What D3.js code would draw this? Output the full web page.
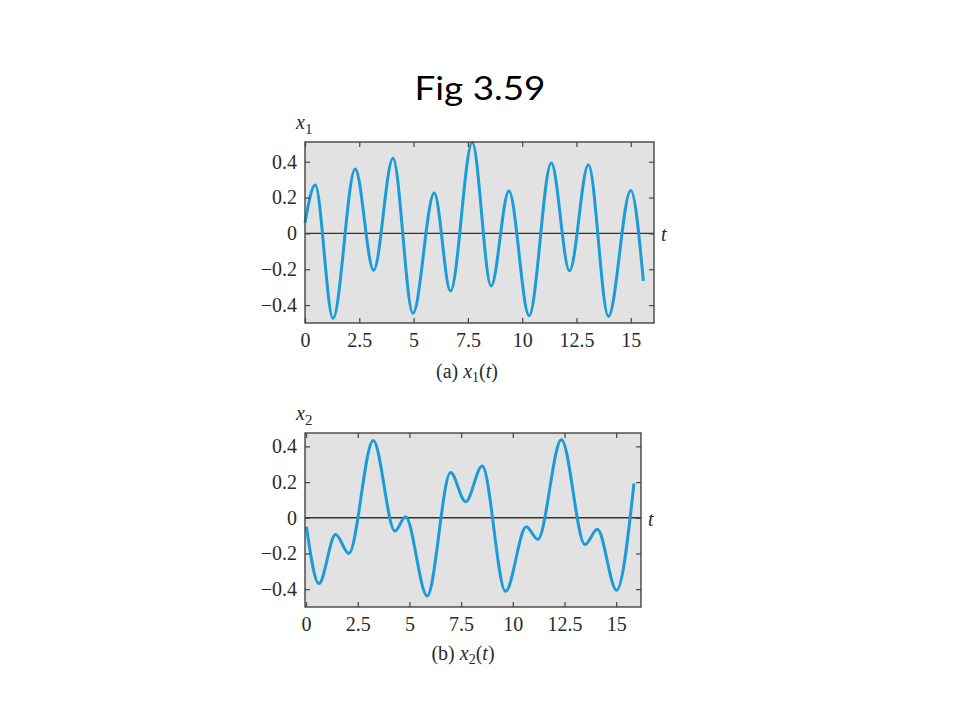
<!DOCTYPE html>
<html>
<head>
<meta charset="utf-8">
<script src="https://cdn.jsdelivr.net/npm/d3@7"></script>
<style>
  html, body { margin: 0; padding: 0; background: #fff; }
  svg { display: block; }
</style>
</head>
<body>
<svg id="chart" width="960" height="720"></svg>
<script>
// ---- Data ----
const title = "Fig 3.59";

const xTicks = [0, 2.5, 5, 7.5, 10, 12.5, 15];
const xTickLabels = ["0", "2.5", "5", "7.5", "10", "12.5", "15"];
const yTicks = [-0.4, -0.2, 0, 0.2, 0.4];
const yTickLabels = ["\u22120.4", "\u22120.2", "0", "0.2", "0.4"];

// x1(t): local extrema and end points
const x1T = [0, 0.47, 1.29, 2.31, 3.16, 4.05, 4.97, 5.95, 6.70, 7.70, 8.57, 9.39, 10.32, 11.34, 12.18, 13.05, 13.97, 15.0, 15.58];
const x1V = [0.06, 0.27, -0.474, 0.36, -0.206, 0.42, -0.446, 0.226, -0.322, 0.507, -0.293, 0.237, -0.459, 0.393, -0.209, 0.383, -0.463, 0.24, -0.265];

// x2(t): local extrema and end points
const x2T = [0.02, 0.62, 1.43, 2.07, 3.25, 4.30, 4.81, 5.86, 6.99, 7.72, 8.52, 9.65, 10.65, 11.21, 12.35, 13.49, 14.09, 15.02, 15.86];
const x2V = [-0.05, -0.369, -0.094, -0.2, 0.433, -0.075, 0.006, -0.438, 0.253, 0.09, 0.29, -0.412, -0.05, -0.121, 0.437, -0.15, -0.065, -0.406, 0.193];

// ---- Drawing ----
const svg = d3.select("#chart");
const serif = "'Liberation Serif', 'DejaVu Serif', serif";

svg.append("text")
  .attr("x", 480).attr("y", 100)
  .attr("text-anchor", "middle")
  .attr("font-family", "Lato, 'Open Sans', sans-serif")
  .attr("font-size", 33)
  .attr("textLength", 131)
  .attr("lengthAdjust", "spacingAndGlyphs")
  .attr("fill", "#000")
  .text(title);

function panel(opt) {
  const { left, right, top, bottom, xDomain, yDomain, T, V, sub, caption } = opt;
  const x = d3.scaleLinear().domain(xDomain).range([left, right]);
  const y = d3.scaleLinear().domain(yDomain).range([bottom, top]);
  const g = svg.append("g");

  // background
  g.append("rect")
    .attr("x", left).attr("y", top)
    .attr("width", right - left).attr("height", bottom - top)
    .attr("fill", "#e2e2e2");

  // zero line
  g.append("line")
    .attr("x1", left).attr("x2", right)
    .attr("y1", y(0)).attr("y2", y(0))
    .attr("stroke", "#333").attr("stroke-width", 1.3);

  // curve
  const pts = T.map((t, i) => [t, V[i]]);
  g.append("path")
    .datum(pts)
    .attr("fill", "none")
    .attr("stroke", "#1c9bd8")
    .attr("stroke-width", 3)
    .attr("stroke-linecap", "butt")
    .attr("d", d3.line().x(d => x(d[0])).y(d => y(d[1])).curve(d3.curveMonotoneX));

  // axes with inward ticks
  const tickLen = 5;
  const axB = d3.axisBottom(x).tickValues(xTicks).tickSize(-tickLen).tickFormat((d, i) => xTickLabels[i]).tickPadding(10);
  const axT = d3.axisTop(x).tickValues(xTicks).tickSize(-tickLen).tickFormat("");
  const axL = d3.axisLeft(y).tickValues(yTicks).tickSize(-tickLen).tickFormat((d, i) => yTickLabels[i]).tickPadding(8);
  const axR = d3.axisRight(y).tickValues(yTicks).tickSize(-tickLen).tickFormat("");

  const gb = g.append("g").attr("transform", `translate(0,${bottom})`).call(axB);
  const gt = g.append("g").attr("transform", `translate(0,${top})`).call(axT);
  const gl = g.append("g").attr("transform", `translate(${left},0)`).call(axL);
  const gr = g.append("g").attr("transform", `translate(${right},0)`).call(axR);
  [gb, gt, gl, gr].forEach(a => {
    a.select(".domain").remove();
    a.selectAll(".tick line").attr("stroke", "#444").attr("stroke-width", 1.2);
    a.selectAll(".tick text")
      .attr("font-family", serif).attr("font-size", 20).attr("fill", "#2a2a2a");
  });
  gb.selectAll(".tick text").attr("dy", "0.71em");

  // frame
  g.append("rect")
    .attr("x", left).attr("y", top)
    .attr("width", right - left).attr("height", bottom - top)
    .attr("fill", "none").attr("stroke", "#444").attr("stroke-width", 1.4);

  // y label x_n
  const yl = g.append("text")
    .attr("x", left - 9).attr("y", top - 13)
    .attr("font-family", serif).attr("font-size", 20).attr("fill", "#2a2a2a");
  yl.append("tspan").attr("font-style", "italic").text("x");
  yl.append("tspan").attr("font-size", 15).attr("dy", 5).text(sub);

  // t label
  g.append("text")
    .attr("x", right + 7).attr("y", y(0) + 8)
    .attr("font-family", serif).attr("font-style", "italic")
    .attr("font-size", 20).attr("fill", "#2a2a2a").text("t");

  // caption
  const cap = g.append("text")
    .attr("x", caption.x).attr("y", caption.y)
    .attr("text-anchor", "middle")
    .attr("font-family", serif).attr("font-size", 20).attr("fill", "#2a2a2a");
  cap.append("tspan").text(caption.label + " ");
  cap.append("tspan").attr("font-style", "italic").text("x");
  cap.append("tspan").attr("font-size", 14).attr("dy", 4).text(sub);
  cap.append("tspan").attr("dy", -4).text("(");
  cap.append("tspan").attr("font-style", "italic").text("t");
  cap.append("tspan").text(")");
}

panel({
  left: 305, right: 654, top: 142, bottom: 323,
  xDomain: [0, 16.07], yDomain: [-0.5, 0.51],
  T: x1T, V: x1V, sub: "1",
  caption: { x: 467, y: 378, label: "(a)" }
});

panel({
  left: 305, right: 641, top: 433, bottom: 607,
  xDomain: [-0.05, 16.2], yDomain: [-0.5, 0.475],
  T: x2T, V: x2V, sub: "2",
  caption: { x: 463, y: 660, label: "(b)" }
});
</script>
</body>
</html>
